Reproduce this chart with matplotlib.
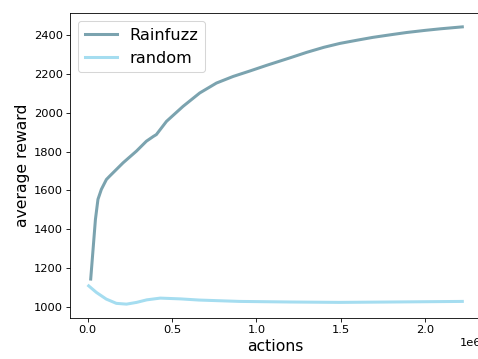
import matplotlib
matplotlib.use("Agg")
import matplotlib.pyplot as plt
import numpy as np

rain_x = [0.018, 0.032, 0.046, 0.061, 0.081, 0.111, 0.13, 0.21, 0.289, 0.348, 0.39, 0.407,
          0.467, 0.565, 0.664, 0.763, 0.862, 0.961, 1.06, 1.2, 1.298, 1.4, 1.495, 1.6,
          1.69, 1.8, 1.89, 2.0, 2.09, 2.22]
rain_y = [1144, 1297, 1451, 1554, 1605, 1656, 1673, 1742, 1802, 1853, 1878, 1887,
          1955, 2032, 2101, 2152, 2186, 2214, 2243, 2282, 2310, 2336, 2356, 2373,
          2387, 2401, 2412, 2423, 2431, 2441]

rand_x = [0.006, 0.052, 0.11, 0.17, 0.23, 0.29, 0.35, 0.43, 0.55, 0.66, 0.90, 1.2,
          1.49, 1.8, 2.22]
rand_y = [1109, 1075, 1041, 1019, 1015, 1024, 1037, 1046, 1042, 1036, 1029, 1026,
          1024, 1026, 1029]

labels = ["Rainfuzz", "random"]
colors = ["#7BA3AF", "#A5DDF0"]

dpi = 75
fig = plt.figure(figsize=(478 / dpi, 359 / dpi), dpi=dpi)
ax = fig.add_axes([70 / 478, 41 / 359, 411 / 478, 305 / 359])

ax.plot(np.array(rain_x) * 1e6, rain_y, color=colors[0], lw=2.9, label=labels[0],
        solid_joinstyle="round")
ax.plot(np.array(rand_x) * 1e6, rand_y, color=colors[1], lw=2.9, label=labels[1],
        solid_joinstyle="round")

ax.set_yticks([1000, 1200, 1400, 1600, 1800, 2000, 2200, 2400])
ax.set_xticks([0, 0.5e6, 1.0e6, 1.5e6, 2.0e6])
ax.tick_params(labelsize=11)
ax.xaxis.get_offset_text().set_fontsize(11)
ax.set_xlabel("actions", fontsize=15)
ax.set_ylabel("average reward", fontsize=15)
ax.legend(fontsize=15.5, loc="upper left")

fig.savefig("out.png", dpi=dpi)
